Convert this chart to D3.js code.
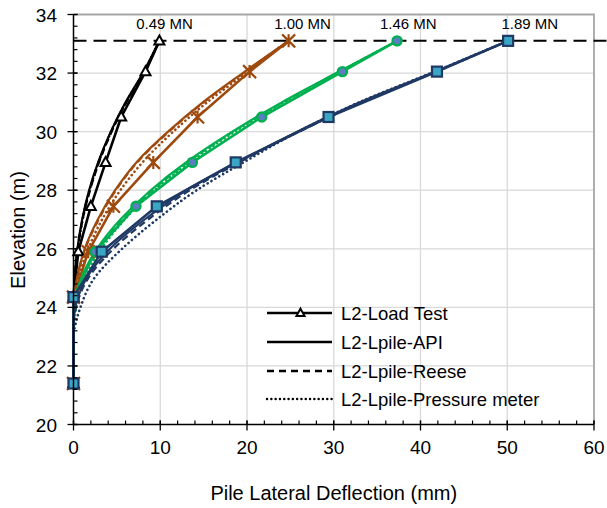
<!DOCTYPE html>
<html><head><meta charset="utf-8">
<script src="https://cdn.jsdelivr.net/npm/d3@7"></script>
<style>body{margin:0;background:#fff}svg{display:block}text{font-family:"Liberation Sans",Arial,sans-serif;fill:#000}</style>
</head><body>
<svg id="c" width="607" height="508"></svg>
<script>
// ---- data ----
const loadLabels = ["0.49 MN", "1.00 MN", "1.46 MN", "1.89 MN"];
const loadLabelX = [10.5, 26.4, 38.6, 52.6];
const headElev = 33.1;

// load test (markers)
const elevTest = [33.1, 32.05, 30.5, 28.95, 27.45, 25.9, 24.35, 21.4];
const testBlack = [9.9, 8.3, 5.5, 3.7, 2.0, 0.55, 0, 0];
const testBrown = [24.8, 20.3, 14.3, 9.2, 4.6, 1.7, 0, 0];
const testGreen = [37.3, 31.0, 21.7, 13.7, 7.2, 2.5, 0, 0];
const testNavy  = [50.1, 41.9, 29.4, 18.7, 9.6, 3.25, 0, 0];

// Lpile predictions
const elevModel = [33.1, 32, 31, 30, 29, 28, 27, 26, 25, 24, 23.5, 23, 21.4];
const apiBlack   = [9.9, 8.0, 6.0, 4.3, 2.9, 1.8, 1.0, 0.45, 0.12, 0, 0, 0, 0];
const reeseBlack = [9.9, 8.1, 6.1, 4.4, 3.0, 1.9, 1.05, 0.5, 0.15, 0.02, 0, 0, 0];
const pmBlack    = [9.9, 8.05, 6.05, 4.35, 2.95, 1.85, 1.05, 0.5, 0.15, 0.02, 0, 0, 0];
const apiBrown   = [24.8, 19.5, 14.9, 10.9, 7.4, 4.8, 2.8, 1.3, 0.4, 0, 0, 0, 0];
const reeseBrown = [24.8, 19.6, 15.0, 11.0, 7.5, 4.9, 2.9, 1.35, 0.45, 0.05, 0, 0, 0];
const pmBrown    = [24.8, 19.9, 15.4, 11.5, 8.1, 5.4, 3.3, 1.7, 0.6, 0.1, 0, 0, 0];
const apiGreen   = [37.3, 30.3, 24.0, 18.3, 13.2, 8.9, 5.4, 2.7, 0.9, 0.1, 0, 0, 0];
const reeseGreen = [37.3, 30.4, 24.1, 18.4, 13.4, 9.1, 5.6, 2.9, 1.0, 0.15, 0, 0, 0];
const pmGreen    = [37.3, 30.4, 24.2, 18.6, 13.6, 9.3, 5.9, 3.2, 1.3, 0.3, 0.1, 0, 0];
const apiNavy    = [50.1, 41.3, 33.0, 25.8, 19.2, 13.0, 8.2, 4.2, 1.5, 0.2, 0, 0, 0];
const reeseNavy  = [50.1, 41.4, 33.2, 26.0, 19.4, 13.4, 8.6, 4.6, 1.7, 0.3, 0.05, 0, 0];
const pmNavy     = [50.1, 41.2, 32.9, 25.9, 19.9, 14.2, 9.6, 5.6, 2.4, 0.8, 0.3, 0, 0];

const xTicks = [0, 10, 20, 30, 40, 50, 60];
const yTicks = [20, 22, 24, 26, 28, 30, 32, 34];
const legendLabels = ["L2-Load Test", "L2-Lpile-API", "L2-Lpile-Reese", "L2-Lpile-Pressure meter"];

// ---- chart ----
const svg = d3.select("#c");
const L = 73.5, R = 594, T = 14.5, B = 424.5;
const x = d3.scaleLinear().domain([0, 60]).range([L, R]);
const y = d3.scaleLinear().domain([20, 34]).range([B, T]);

const colors = ["#000000", "#9E4A0E", "#00B050", "#1F3864"];

// gridlines
const g = svg.append("g");
g.selectAll(".vg").data(xTicks.slice(1, -1)).join("line")
  .attr("x1", d => x(d)).attr("x2", d => x(d)).attr("y1", T).attr("y2", B)
  .attr("stroke", "#D9D9D9").attr("stroke-width", 1.3);
g.selectAll(".hg").data(yTicks.slice(1, -1)).join("line")
  .attr("y1", d => y(d)).attr("y2", d => y(d)).attr("x1", L).attr("x2", R)
  .attr("stroke", "#D9D9D9").attr("stroke-width", 1.3);
// frame top/right
svg.append("path").attr("d", `M${L},${T}H${R}V${B}`).attr("fill", "none")
  .attr("stroke", "#A6A6A6").attr("stroke-width", 1.8);

// head elevation dashed line
svg.append("line").attr("x1", L).attr("x2", 607).attr("y1", y(headElev)).attr("y2", y(headElev))
  .attr("stroke", "#000").attr("stroke-width", 2).attr("stroke-dasharray", "13 7");

// series
const groups = [
  {c: colors[0], test: testBlack, api: apiBlack, reese: reeseBlack, pm: pmBlack, m: "tri"},
  {c: colors[1], test: testBrown, api: apiBrown, reese: reeseBrown, pm: pmBrown, m: "star"},
  {c: colors[2], test: testGreen, api: apiGreen, reese: reeseGreen, pm: pmGreen, m: "circle"},
  {c: colors[3], test: testNavy, api: apiNavy, reese: reeseNavy, pm: pmNavy, m: "square"}
];
const lineModel = d3.line().x(d => x(d[0])).y(d => y(d[1])).curve(d3.curveMonotoneY);
const lineTest = d3.line().x(d => x(d[0])).y(d => y(d[1]));
const lg = svg.append("g");
groups.forEach(gr => {
  const zipM = arr => arr.map((v, i) => [v, elevModel[i]]);
  lg.append("path").attr("d", lineModel(zipM(gr.pm))).attr("fill", "none").attr("stroke", gr.c)
    .attr("stroke-width", 2.6).attr("stroke-dasharray", "0.1 4.4").attr("stroke-linecap", "round");
  lg.append("path").attr("d", lineModel(zipM(gr.reese))).attr("fill", "none").attr("stroke", gr.c)
    .attr("stroke-width", 2.2).attr("stroke-dasharray", "7 4");
  lg.append("path").attr("d", lineModel(zipM(gr.api))).attr("fill", "none").attr("stroke", gr.c)
    .attr("stroke-width", 2.2);
  lg.append("path").attr("d", lineTest(gr.test.map((v, i) => [v, elevTest[i]]))).attr("fill", "none")
    .attr("stroke", gr.c).attr("stroke-width", 2.6).attr("stroke-linejoin", "round");
});

function marker(sel, type, c, cx, cy, s) {
  if (type === "tri") {
    const h = s * 0.9;
    sel.append("path").attr("d", `M${cx},${cy - h * 0.6}L${cx + s / 2},${cy + h * 0.4}L${cx - s / 2},${cy + h * 0.4}Z`)
      .attr("fill", "#fff").attr("stroke", c).attr("stroke-width", 2);
  } else if (type === "star") {
    const r = s / 2;
    sel.append("path").attr("d", `M${cx - r},${cy - r}L${cx + r},${cy + r}M${cx - r},${cy + r}L${cx + r},${cy - r}M${cx},${cy - r}V${cy + r}`)
      .attr("stroke", c).attr("stroke-width", 2.2).attr("fill", "none");
  } else if (type === "circle") {
    sel.append("circle").attr("cx", cx).attr("cy", cy).attr("r", s / 2)
      .attr("fill", "#5B7DC2").attr("stroke", c).attr("stroke-width", 2.4);
  } else {
    sel.append("rect").attr("x", cx - s / 2).attr("y", cy - s / 2).attr("width", s).attr("height", s)
      .attr("fill", "#3AA6C4").attr("stroke", c).attr("stroke-width", 2.2);
  }
}
const mg = svg.append("g");
const msize = {tri: 10, star: 13, circle: 9, square: 10};
groups.forEach(gr => {
  gr.test.forEach((v, i) => marker(mg, gr.m, gr.c, x(v), y(elevTest[i]), msize[gr.m]));
});

// axes
const ax = svg.append("g");
ax.append("line").attr("x1", L).attr("x2", L).attr("y1", T).attr("y2", B).attr("stroke", "#000").attr("stroke-width", 1.5);
ax.append("line").attr("x1", L).attr("x2", R).attr("y1", B).attr("y2", B).attr("stroke", "#000").attr("stroke-width", 1.5);
// y minor ticks every 0.4
d3.range(20, 34.001, 0.4).forEach(v => {
  ax.append("line").attr("x1", L).attr("x2", L + 4).attr("y1", y(v)).attr("y2", y(v)).attr("stroke", "#000").attr("stroke-width", 1.2);
});
yTicks.forEach(v => {
  ax.append("line").attr("x1", L - 6).attr("x2", L + 4).attr("y1", y(v)).attr("y2", y(v)).attr("stroke", "#000").attr("stroke-width", 1.3);
  ax.append("text").attr("x", L - 16.5).attr("y", y(v) + 7).attr("text-anchor", "end")
    .attr("font-size", 19).text(v);
});
d3.range(0, 60.001, 2).forEach(v => {
  ax.append("line").attr("x1", x(v)).attr("x2", x(v)).attr("y1", B).attr("y2", B - 4).attr("stroke", "#000").attr("stroke-width", 1.2);
});
xTicks.forEach(v => {
  ax.append("line").attr("x1", x(v)).attr("x2", x(v)).attr("y1", B + 6).attr("y2", B - 4).attr("stroke", "#000").attr("stroke-width", 1.3);
  ax.append("text").attr("x", x(v)).attr("y", 454).attr("text-anchor", "middle")
    .attr("font-size", 19).text(v);
});
svg.append("text").attr("x", (L + R) / 2).attr("y", 500).attr("text-anchor", "middle")
  .attr("font-size", 20).text("Pile Lateral Deflection (mm)");
svg.append("text").attr("transform", "translate(25,230) rotate(-90)").attr("text-anchor", "middle")
  .attr("font-size", 20).text("Elevation (m)");

// load labels
loadLabels.forEach((t, i) => {
  svg.append("text").attr("x", x(loadLabelX[i])).attr("y", 29).attr("text-anchor", "middle")
    .attr("font-size", 15).text(t);
});

// legend
const leg = svg.append("g");
const legY = [313, 342, 371, 399];
const dashes = [null, null, "7 5", "0.1 4.2"];
legendLabels.forEach((t, i) => {
  const ln = leg.append("line").attr("x1", 267).attr("x2", 332).attr("y1", legY[i]).attr("y2", legY[i])
    .attr("stroke", "#000").attr("stroke-width", 2.4);
  if (dashes[i]) ln.attr("stroke-dasharray", dashes[i]);
  if (i === 3) ln.attr("stroke-linecap", "round");
  if (i === 0) marker(leg, "tri", "#000", 300.5, legY[i], 8);
  leg.append("text").attr("x", 341).attr("y", legY[i] + 6.5).attr("font-size", 18.5).text(t);
});
</script>
</body></html>
